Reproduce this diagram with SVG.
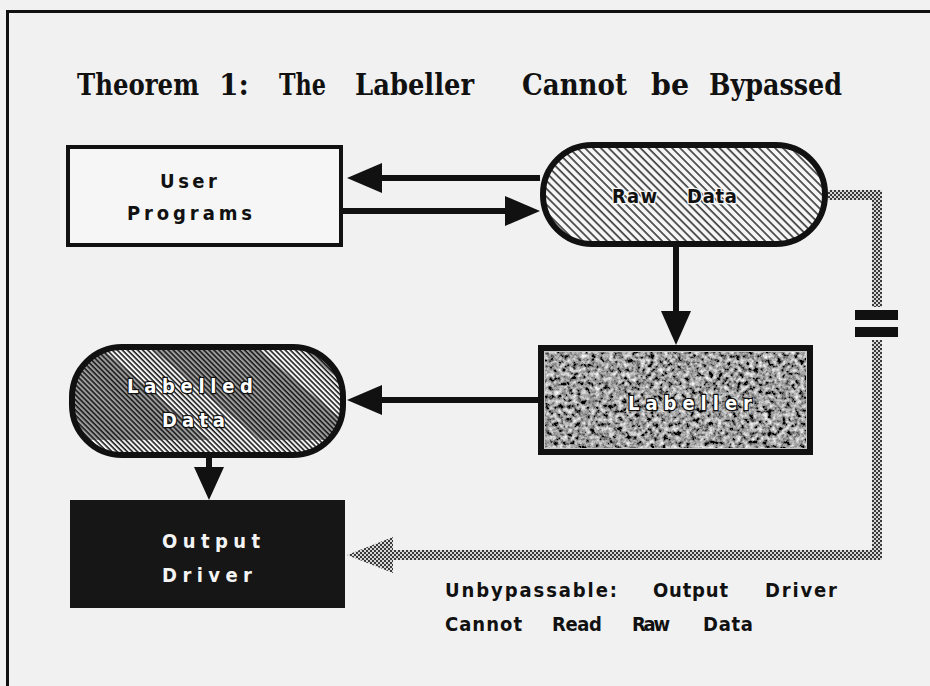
<svg xmlns="http://www.w3.org/2000/svg" width="930" height="686" viewBox="0 0 930 686">
  <style>
    .t { font-family: "Liberation Sans Narrow", "DejaVu Sans Condensed", "Liberation Sans", sans-serif; font-weight: bold; }
    .title { font-family: "DejaVu Serif Condensed", "DejaVu Serif", "Liberation Serif", serif; font-weight: bold; font-size: 30px; fill: #111; }
    .lbl { font-size: 20px; fill: #111; }
    .knock { font-size: 20px; fill: #fff; stroke: #111; stroke-width: 2.4; paint-order: stroke; }
    .inv { font-size: 20px; fill: #f4f4f4; }
    .edge { fill: none; stroke: #111; stroke-width: 6; }
    .head { fill: #111; }
    .gray { fill: none; stroke: url(#checker); stroke-width: 10; }
  </style>
  <defs>
    <!-- diagonal hatch for raw data -->
    <pattern id="hatchRaw" width="5.6" height="5.6" patternUnits="userSpaceOnUse" patternTransform="rotate(-45)">
      <rect width="5.6" height="5.6" fill="#f6f6f6"/>
      <line x1="1" y1="0" x2="1" y2="5.6" stroke="#1a1a1a" stroke-width="1.4"/>
    </pattern>
    <!-- denser hatch for labelled data -->
    <pattern id="hatchLab" width="3.6" height="3.6" patternUnits="userSpaceOnUse" patternTransform="rotate(-45)">
      <line x1="1" y1="0" x2="1" y2="3.6" stroke="#111" stroke-width="1.5"/>
    </pattern>
    <!-- checkered grey stroke -->
    <pattern id="checker" width="4" height="4" patternUnits="userSpaceOnUse">
      <rect width="4" height="4" fill="#d8d8d8"/>
      <rect width="2" height="2" fill="#3a3a3a"/>
      <rect x="2" y="2" width="2" height="2" fill="#3a3a3a"/>
    </pattern>
    <!-- mottled texture for the labeller -->
    <filter id="grain" x="0" y="0" width="100%" height="100%">
      <feTurbulence type="fractalNoise" baseFrequency="0.22" numOctaves="4" seed="7" result="n"/>
      <feColorMatrix in="n" type="matrix" values="1.7 0 0 0 -0.5  1.7 0 0 0 -0.5  1.7 0 0 0 -0.5  0 0 0 0 1" result="g"/>
      <feComposite in="g" in2="SourceGraphic" operator="in"/>
    </filter>
    <clipPath id="labClip">
      <rect x="72" y="347" width="271" height="108" rx="50"/>
    </clipPath>
  </defs>

  <!-- page -->
  <rect width="930" height="686" fill="#f1f1f1"/>
  <path d="M7.5 686 V11.5 H930" fill="none" stroke="#111" stroke-width="3"/>

  <!-- title -->
  <g id="title" class="title">
    <text x="77" y="95" textLength="122" lengthAdjust="spacingAndGlyphs">Theorem</text>
    <text x="219" y="95" textLength="30" lengthAdjust="spacingAndGlyphs">1:</text>
    <text x="279" y="95" textLength="47" lengthAdjust="spacingAndGlyphs">The</text>
    <text x="355" y="95" textLength="119" lengthAdjust="spacingAndGlyphs">Labeller</text>
    <text x="522" y="95" textLength="105" lengthAdjust="spacingAndGlyphs">Cannot</text>
    <text x="651" y="95" textLength="38" lengthAdjust="spacingAndGlyphs">be</text>
    <text x="709" y="95" textLength="133" lengthAdjust="spacingAndGlyphs">Bypassed</text>
  </g>

  <!-- connectors -->
  <g id="connectors">
    <!-- raw data to user programs -->
    <line class="edge" x1="540" y1="178" x2="378" y2="178"/>
    <polygon class="head" points="347,178 382,163 382,193"/>
    <!-- user programs to raw data -->
    <line class="edge" x1="343" y1="211" x2="508" y2="211"/>
    <polygon class="head" points="540,211 505,196 505,226"/>
    <!-- raw data to labeller -->
    <line class="edge" x1="676" y1="247" x2="676" y2="315"/>
    <polygon class="head" points="676,345 661,311 691,311"/>
    <!-- labeller to labelled data -->
    <line class="edge" x1="538" y1="400" x2="378" y2="400"/>
    <polygon class="head" points="347,400 382,385 382,415"/>
    <!-- labelled data to output driver -->
    <line class="edge" x1="209" y1="455" x2="209" y2="470"/>
    <polygon class="head" points="209,500 194,467 224,467"/>
    <!-- broken path from raw data to output driver -->
    <path class="gray" d="M828 195 H877 V307"/>
    <path class="gray" d="M877 340 V555 H390"/>
    <polygon points="347,555 393,537 393,573" fill="url(#checker)"/>
    <rect x="855" y="310" width="43" height="10" fill="#111"/>
    <rect x="855" y="327" width="43" height="10" fill="#111"/>
  </g>

  <!-- nodes -->
  <g id="user-programs">
    <rect x="68" y="147" width="273" height="98" fill="#f6f6f6" stroke="#111" stroke-width="4"/>
    <text class="t lbl" x="160" y="188" textLength="57" lengthAdjust="spacing">User</text>
    <text class="t lbl" x="127" y="220" textLength="125" lengthAdjust="spacing">Programs</text>
  </g>

  <g id="raw-data">
    <rect x="543" y="145" width="282" height="99" rx="49" fill="url(#hatchRaw)" stroke="#111" stroke-width="6"/>
    <text class="t lbl" x="612" y="203" textLength="45" lengthAdjust="spacing" style="stroke:#f6f6f6;stroke-width:2.5;paint-order:stroke">Raw</text>
    <text class="t lbl" x="687" y="203" textLength="50" lengthAdjust="spacing" style="stroke:#f6f6f6;stroke-width:2.5;paint-order:stroke">Data</text>
  </g>

  <g id="labeller">
    <rect x="541" y="348" width="269" height="104" fill="#666" filter="url(#grain)"/>
    <rect x="543.5" y="350.5" width="264" height="99" fill="none" stroke="#c8c8c8" stroke-width="3"/>
    <rect x="541" y="348" width="269" height="104" fill="none" stroke="#111" stroke-width="6"/>
    <text class="t knock" x="628" y="410" textLength="124" lengthAdjust="spacing">Labeller</text>
  </g>

  <g id="labelled-data">
    <g clip-path="url(#labClip)">
      <rect x="72" y="347" width="271" height="108" fill="#9c9c9c"/>
      <polygon points="100,347 150,347 260,440 210,440" fill="#f4f4f4"/>
      <polygon points="255,347 300,347 343,383 343,420" fill="#f4f4f4"/>
      <rect x="72" y="440" width="271" height="20" fill="#f4f4f4"/>
      <rect x="72" y="347" width="271" height="108" fill="url(#hatchLab)"/>
    </g>
    <rect x="72" y="347" width="271" height="108" rx="50" fill="none" stroke="#111" stroke-width="6"/>
    <text class="t knock" x="127" y="393" textLength="126" lengthAdjust="spacing">Labelled</text>
    <text class="t knock" x="162" y="427" textLength="63" lengthAdjust="spacing">Data</text>
  </g>

  <g id="output-driver">
    <rect x="70" y="500" width="275" height="108" fill="#161616"/>
    <text class="t inv" x="162" y="548" textLength="98" lengthAdjust="spacing">Output</text>
    <text class="t inv" x="162" y="582" textLength="90" lengthAdjust="spacing">Driver</text>
  </g>

  <!-- caption -->
  <g id="caption" class="t lbl">
    <text x="445" y="597" textLength="172" lengthAdjust="spacing">Unbypassable:</text>
    <text x="653" y="597" textLength="75" lengthAdjust="spacing">Output</text>
    <text x="765" y="597" textLength="72" lengthAdjust="spacing">Driver</text>
    <text x="445" y="631" textLength="77" lengthAdjust="spacing">Cannot</text>
    <text x="552" y="631" textLength="50" lengthAdjust="spacing">Read</text>
    <text x="632" y="631" textLength="38" lengthAdjust="spacing">Raw</text>
    <text x="703" y="631" textLength="50" lengthAdjust="spacing">Data</text>
  </g>
</svg>
